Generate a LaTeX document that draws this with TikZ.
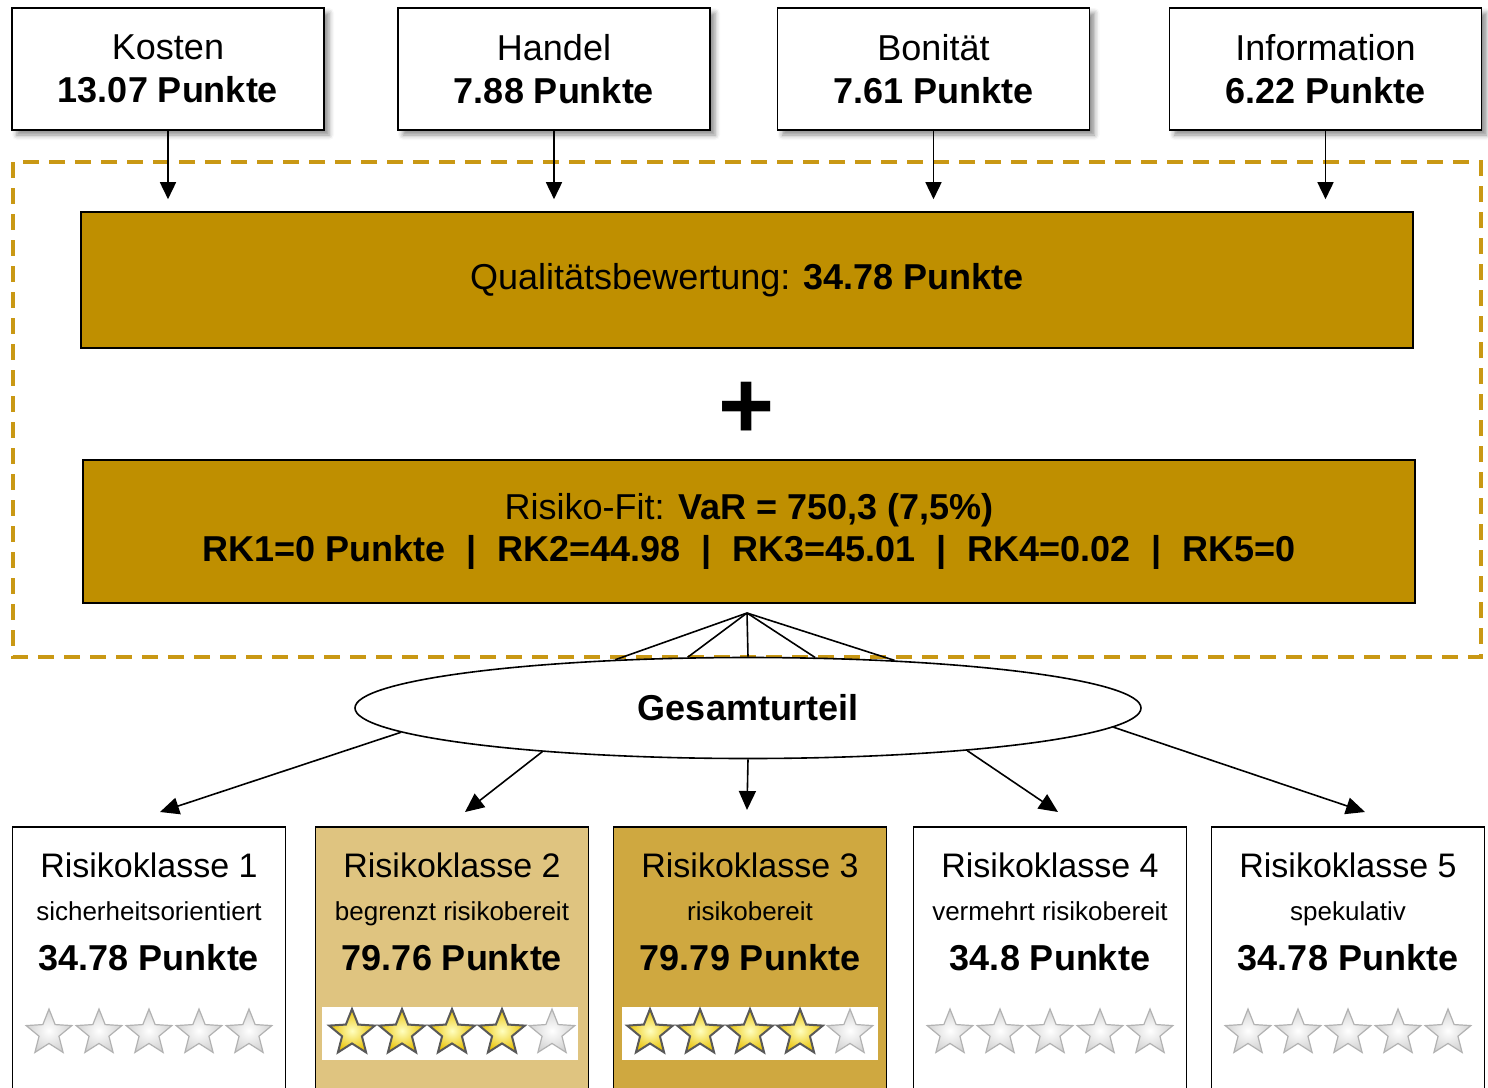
\documentclass[tikz,border=0pt]{standalone}
\usepackage{fontspec}
\setmainfont{Liberation Sans}
\usepackage{tikz}
\usetikzlibrary{arrows.meta, shapes.geometric, positioning, calc, shadows.blur}

\definecolor{qualgold}  {RGB}{191, 143,    0}
\definecolor{rahmengold}{RGB}{201, 152,   20}
\definecolor{rkhell}    {RGB}{223, 196,  128}
\definecolor{rkmittel}  {RGB}{207, 168,   64}
\definecolor{sterngelb} {RGB}{232, 192,    0}

\newcommand{\rksep}{\hspace{21pt}|\hspace{21pt}}
% Sternreihe: #1 Kasten, #2 Anzahl goldener Sterne
\newcommand{\sternreihe}[2]{%
	\foreach \s in {1,...,5}{%
		\ifnum\s>#2
			\node[graustern] (#1-s\s) at ($(#1.north)+(\s*50-150,207)$) {};
		\else
			\node[goldstern] (#1-s\s) at ($(#1.north)+(\s*50-150,207)$) {};
		\fi}}

\begin{document}
\begin{tikzpicture}[x=1pt, y=-1pt, line width=1.6pt,
		topbox/.style={draw=black, fill=white, minimum width=312pt, minimum height=122pt, align=center,
			font=\fontsize{36}{43}\selectfont,
			blur shadow={shadow xshift=5pt, shadow yshift=-5pt, shadow blur radius=5pt, shadow opacity=45}},
		goldbox/.style={draw=black, fill=qualgold, minimum width=1332pt, align=center, font=\fontsize{36}{42}\selectfont},
		rkbox/.style={draw=black, anchor=north, minimum width=273pt, minimum height=275pt},
		rktitel/.style={anchor=base, font=\fontsize{34}{40}\selectfont},
		rktyp/.style={anchor=base, font=\fontsize{26}{30}\selectfont},
		rkpunkte/.style={anchor=base, font=\fontsize{36}{42}\selectfont\bfseries},
		band/.style={fill=white, minimum width=256pt, minimum height=53pt, inner sep=0pt},
		pfeil/.style={-{Triangle[length=17pt,width=16pt]}},
		pfeilb/.style={-{Triangle[length=19pt,width=17pt]}},
		graustern/.style={star, star points=5, star point ratio=2.3, minimum size=48pt, inner sep=0pt,
			draw=gray!60, line width=1.2pt, inner color=white, outer color=gray!35},
		goldstern/.style={graustern, draw=black!65, line width=2pt, inner color=yellow!25, outer color=sterngelb}
	]
	\useasboundingbox (0,0) rectangle (1488,1087);

	% Rahmen
	\draw[rahmengold, line width=3.5pt, dash pattern=on 16pt off 10pt] (13,162) rectangle (1481,657);

	% Teilbewertungen
	\node[topbox] (kosten)   at (168,69)    {Kosten\\\textbf{13.07 Punkte}};
	\node[topbox] (handel)   at (554,69)    {Handel\\\textbf{7.88 Punkte}};
	\node[topbox] (bonitaet) at (933.5,69)  {Bonität\\\textbf{7.61 Punkte}};
	\node[topbox] (info)     at (1325.5,69) {Information\\\textbf{6.22 Punkte}};

	\node[goldbox, minimum height=136pt] (qualitaet) at (747,280) {Qualitätsbewertung: \textbf{34.78 Punkte}};
	\node[font=\fontsize{96}{96}\selectfont\bfseries] (plus) at (747,410) {+};
	\node[goldbox, minimum height=143pt] (risiko) at (749,531.5)
		{Risiko-Fit: \textbf{VaR = 750,3 (7,5\%)}\\
		 \textbf{RK1=0 Punkte\rksep RK2=44.98\rksep RK3=45.01\rksep RK4=0.02\rksep RK5=0}};

	\foreach \b in {kosten,handel,bonitaet,info}
		\draw[pfeil, shorten >=12pt] (\b.south) -- (\b.south |- qualitaet.north);

	% Gesamturteil
	\node[ellipse, draw, fill=white, minimum width=786pt, minimum height=101pt,
		font=\fontsize{36}{42}\selectfont\bfseries] (gesamt) at (748,708) {Gesamturteil};
	\coordinate (spitze) at (747,613);
	\foreach \w in {160,140,90,37,18}
		\draw (spitze) -- (gesamt.\w);

	% Risikoklassen
	\node[rkbox, fill=white]    (rk1) at (149,826)  {};
	\node[rkbox, fill=rkhell]   (rk2) at (452,826)  {};
	\node[rkbox, fill=rkmittel] (rk3) at (750,826)  {};
	\node[rkbox, fill=white]    (rk4) at (1050,826) {};
	\node[rkbox, fill=white]    (rk5) at (1348,826) {};

	\foreach \n/\k/\t/\p in {rk1/1/sicherheitsorientiert/34.78, rk2/2/begrenzt risikobereit/79.76,
			rk3/3/risikobereit/79.79, rk4/4/vermehrt risikobereit/34.8, rk5/5/spekulativ/34.78}{
		\node[rktitel]  (\n-titel)  at ($(\n.north)+(0,51)$)  {Risikoklasse \k};
		\node[rktyp]    (\n-typ)    at ($(\n.north)+(0,94)$)  {\t};
		\node[rkpunkte] (\n-punkte) at ($(\n.north)+(0,144)$) {\p{} Punkte};
	}

	\node[band] (rk2-band) at ($(rk2.north)+(-2,207.5)$) {};
	\node[band] (rk3-band) at ($(rk3.north)+(0,207.5)$)  {};
	\sternreihe{rk1}{0}
	\sternreihe{rk2}{4}
	\sternreihe{rk3}{4}
	\sternreihe{rk4}{0}
	\sternreihe{rk5}{0}

	\coordinate (z1) at (160,812);
	\coordinate (z2) at (465,812);
	\coordinate (z3) at (747,810);
	\coordinate (z4) at (1058,812);
	\coordinate (z5) at (1365,812);
	\foreach \w/\z in {184/z1,192/z2,270/z3,349/z4,357/z5}
		\draw[pfeilb] (gesamt.\w) -- (\z);
\end{tikzpicture}
\end{document}
